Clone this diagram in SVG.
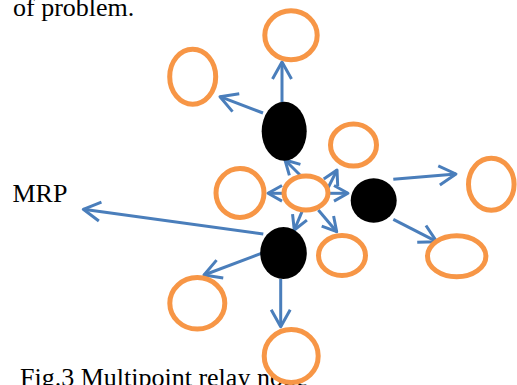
<svg xmlns="http://www.w3.org/2000/svg" width="517" height="385" viewBox="0 0 517 385">
<style>
.t{font-family:"Liberation Serif","Times New Roman",serif;font-size:26px;fill:#000}
.o{fill:#fff;stroke:#F79646;stroke-width:5}
.b{fill:#000;stroke:none}
.c line{stroke:#4A7EBB;stroke-width:3;marker-end:url(#a)}
.c line.s{marker-end:url(#s)}
.h{fill:none;stroke:#4A7EBB;stroke-width:3;stroke-linejoin:round}
</style>
<defs>
<marker id="a" markerUnits="userSpaceOnUse" markerWidth="26" markerHeight="26" viewBox="-22 -13 26 26" refX="0" refY="0" orient="auto">
<path class="h" d="M-17,-9.5 L0,0 L-17,9.5"/>
</marker>
<marker id="s" markerUnits="userSpaceOnUse" markerWidth="26" markerHeight="26" viewBox="-22 -13 26 26" refX="0" refY="0" orient="auto">
<path class="h" d="M-14,-7.8 L0,0 L-14,7.8"/>
</marker>
</defs>
<g id="texts">
<text class="t" x="13" y="16">of problem.</text>
<text class="t" x="12.5" y="201.5">MRP</text>
<text class="t" x="20" y="386">Fig.3 Multipoint relay node</text>
</g>
<g id="connectors" class="c">
<line x1="282" y1="102" x2="282" y2="62"/>
<line x1="263" y1="113" x2="220" y2="96.7"/>
<line class="s" x1="304" y1="179" x2="285" y2="160"/>
<line class="s" x1="283" y1="193.3" x2="268" y2="193.3"/>
<line class="s" x1="330" y1="193.3" x2="348" y2="193.3"/>
<line class="s" x1="328" y1="188" x2="337" y2="170"/>
<line class="s" x1="302" y1="211.7" x2="294.3" y2="230"/>
<line class="s" x1="318.3" y1="210" x2="336.7" y2="231.7"/>
<line x1="393.3" y1="179.3" x2="456" y2="174"/>
<line x1="393.3" y1="219.3" x2="436.7" y2="241.7"/>
<line x1="263.3" y1="234" x2="83.3" y2="209.3"/>
<line x1="263.3" y1="252.7" x2="204" y2="275"/>
<line x1="280.7" y1="279" x2="280.7" y2="326.7"/>
</g>
<g id="n-top"><ellipse class="o" cx="291" cy="35.3" rx="26.2" ry="24.5"/></g>
<g id="n-upleft"><ellipse class="o" cx="192.7" cy="76.7" rx="23" ry="27.5"/></g>
<g id="n-left"><ellipse class="o" cx="240" cy="193" rx="24" ry="24.5"/></g>
<g id="n-center"><ellipse class="o" cx="306" cy="193" rx="22" ry="17"/></g>
<g id="n-upright"><ellipse class="o" cx="353.5" cy="145" rx="23" ry="21"/></g>
<g id="n-lowsmall"><ellipse class="o" cx="342" cy="255.5" rx="23.5" ry="20"/></g>
<g id="n-right"><ellipse class="o" cx="491.3" cy="184.2" rx="22.8" ry="26"/></g>
<g id="n-lowright"><ellipse class="o" cx="456.7" cy="256.3" rx="29.2" ry="20.5"/></g>
<g id="n-lowleft"><ellipse class="o" cx="197.3" cy="303.3" rx="27.5" ry="25.8"/></g>
<g id="n-bottom"><ellipse class="o" cx="291.2" cy="356" rx="27" ry="26.5"/></g>
<g id="relay-top"><ellipse class="b" cx="284.2" cy="131.2" rx="22.5" ry="29.5"/></g>
<g id="relay-right"><ellipse class="b" cx="373.7" cy="200.5" rx="23" ry="22.2"/></g>
<g id="relay-low"><ellipse class="b" cx="283.5" cy="253" rx="23.3" ry="26"/></g>
</svg>
